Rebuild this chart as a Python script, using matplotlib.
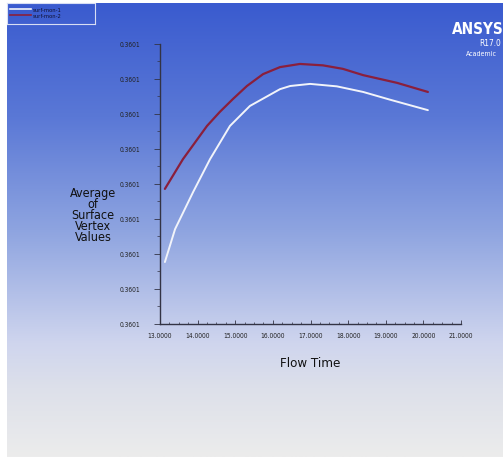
import numpy as np
import matplotlib
matplotlib.use("Agg")
import matplotlib.pyplot as plt
from matplotlib import font_manager
from matplotlib.ticker import MultipleLocator, FormatStrFormatter
from matplotlib.colors import LinearSegmentedColormap

# valori
t_rosso = [13.13, 13.61, 14.25, 14.59, 14.94, 15.31, 15.74, 16.19, 16.72, 17.33, 17.86, 18.40, 19.30, 20.12]
v_rosso = [0.3600986, 0.3601071, 0.3601166, 0.3601206, 0.3601243, 0.3601280, 0.3601314,
           0.3601334, 0.3601343, 0.3601339, 0.3601329, 0.3601311, 0.3601289, 0.3601263]
t_bianco = [13.13, 13.40, 13.88, 14.33, 14.86, 15.39, 16.19, 16.46, 16.99, 17.70, 18.40, 19.11, 20.12]
v_bianco = [0.3600777, 0.3600871, 0.3600977, 0.3601071, 0.3601166, 0.3601223, 0.3601271,
            0.3601280, 0.3601286, 0.3601279, 0.3601263, 0.3601241, 0.3601211]
nomi_serie = ['surf-mon-1', 'surf-mon-2']
x_tick = [13, 14, 15, 16, 17, 18, 19, 20, 21]

nomi = {f.name for f in font_manager.fontManager.ttflist}
font_stretta = [n for n in ['Liberation Sans Narrow', 'DejaVu Sans'] if n in nomi]
stretch = 'condensed'

fig = plt.figure(figsize=(5.03, 4.60), dpi=100)
fig.patch.set_facecolor('white')

# sfondo sfumato stile Fluent
sfondo = fig.add_axes([7/503, 2/460, 496/503, 454/460], zorder=0)
cmap = LinearSegmentedColormap.from_list('fluent', [
    (0.0, '#3a5bcf'), (0.25, '#5a78d6'), (0.5, '#8ea4e0'),
    (0.75, '#cfd5ee'), (0.85, '#dde0ea'), (1.0, '#ececec')])
grad = np.linspace(0, 1, 256).reshape(-1, 1)
sfondo.imshow(grad, aspect='auto', cmap=cmap, extent=[0, 1, 1, 0])
sfondo.axis('off')

ax = fig.add_axes([160/503, 1 - 325/460, 301/503, 280/460], zorder=1)
ax.patch.set_alpha(0)
ax.plot(t_rosso, v_rosso, color='#8a1f3c', lw=1.6, solid_capstyle='round', solid_joinstyle='round')
ax.plot(t_bianco, v_bianco, color='#f2f4fa', lw=1.4, solid_capstyle='round', solid_joinstyle='round')

ax.set_xlim(13, 21)
ax.set_ylim(0.36006, 0.36014)
ax.set_xticks(x_tick)
ax.xaxis.set_major_formatter(FormatStrFormatter('%.4f'))
ax.xaxis.set_minor_locator(MultipleLocator(0.25))
ax.yaxis.set_major_locator(MultipleLocator(0.00001))
ax.yaxis.set_minor_locator(MultipleLocator(0.000005))
ax.yaxis.set_major_formatter(FormatStrFormatter('%.4f'))

for lato in ['top', 'right']:
    ax.spines[lato].set_visible(False)
for lato in ['left', 'bottom']:
    ax.spines[lato].set_color('#333344')
    ax.spines[lato].set_linewidth(1.0)

ax.tick_params(axis='x', which='major', direction='in', length=3, width=0.6,
               colors='#333344', labelsize=4.8, pad=6)
ax.tick_params(axis='x', which='minor', direction='in', length=1.5, width=0.5, colors='#333344')
ax.tick_params(axis='y', which='major', direction='out', length=4, width=0.6,
               colors='#333344', labelsize=4.8, pad=10)
ax.tick_params(axis='y', which='minor', direction='out', length=2, width=0.5, colors='#333344')
for lab in ax.get_xticklabels() + ax.get_yticklabels():
    lab.set_color('#222222')
    lab.set_family(font_stretta)
    lab.set_stretch(stretch)

fig.text(310/503, 1 - 364/460, 'Flow Time', ha='center', va='center', fontsize=9.5,
         color='#111111', family=font_stretta, stretch=stretch)
fig.text(93/503, 1 - 216/460, 'Average\nof\nSurface\nVertex\nValues', ha='center', va='center',
         fontsize=9, color='#111111', family=font_stretta, stretch=stretch, linespacing=0.8)

# logo
fig.text(504/503, 1 - 30/460, 'ANSYS', ha='right', va='center', fontsize=11,
         fontweight='bold', color='white', family=font_stretta, stretch=stretch)
fig.text(501/503, 1 - 43/460, 'R17.0', ha='right', va='center', fontsize=6,
         color='white', family=font_stretta, stretch=stretch)
fig.text(497/503, 1 - 54/460, 'Academic', ha='right', va='center', fontsize=5,
         color='white', family=font_stretta, stretch=stretch)

# legenda
leg = fig.add_axes([7/503, 1 - 25/460, 88/503, 21/460], zorder=2)
leg.set_xlim(0, 88)
leg.set_ylim(21, 0)
leg.set_xticks([])
leg.set_yticks([])
leg.patch.set_alpha(0)
for s in leg.spines.values():
    s.set_color('#d8def4')
    s.set_linewidth(0.8)
leg.plot([3, 24], [6, 6], color='#f2f4fa', lw=1.2)
leg.plot([3, 24], [12, 12], color='#8a1f3c', lw=1.2)
leg.text(26, 6, nomi_serie[0], fontsize=3.8, va='center', color='#111133', family=font_stretta)
leg.text(26, 12, nomi_serie[1], fontsize=3.8, va='center', color='#111133', family=font_stretta)

fig.savefig('out.png', dpi=100)
